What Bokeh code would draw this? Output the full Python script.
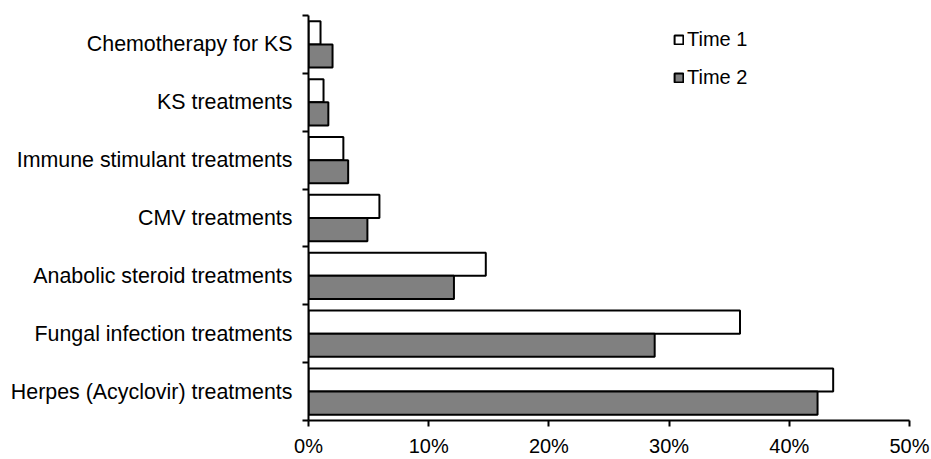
from bokeh.plotting import figure
from bokeh.models import ColumnDataSource, FixedTicker, NumeralTickFormatter, Legend, LegendItem, Range1d
from bokeh.transform import dodge
from bokeh.embed import file_html
from bokeh.resources import INLINE

# Data (top to bottom as in the chart)
categories = [
    "Chemotherapy for KS",
    "KS treatments",
    "Immune stimulant treatments",
    "CMV treatments",
    "Anabolic steroid treatments",
    "Fungal infection treatments",
    "Herpes (Acyclovir) treatments",
]
time1 = [1.0, 1.25, 2.9, 5.9, 14.75, 35.9, 43.65]
time2 = [2.0, 1.65, 3.3, 4.9, 12.1, 28.8, 42.35]
x_ticks = [0, 10, 20, 30, 40, 50]
series_names = ["Time 1", "Time 2"]

n = len(categories)
ypos = [n - 0.5 - i for i in range(n)]

src = ColumnDataSource(dict(
    y=ypos,
    cat=categories,
    t1=[v / 100 for v in time1],
    t2=[v / 100 for v in time2],
))

FONT = "Liberation Sans"

p = figure(
    width=931, height=459,
    output_backend="svg", toolbar_location=None,
    x_range=Range1d(0, 0.5), y_range=Range1d(0, n),
    min_border_left=308, min_border_right=22,
    min_border_top=15, min_border_bottom=38,
    background_fill_color="white", border_fill_color="white",
)
p.outline_line_color = None
p.grid.visible = False

r1 = p.hbar(y=dodge("y", 0.2), right="t1", left=0, height=0.4, source=src,
            fill_color="white", line_color="black", line_width=2)
r2 = p.hbar(y=dodge("y", -0.2), right="t2", left=0, height=0.4, source=src,
            fill_color="#808080", line_color="black", line_width=2)

# X axis
xa = p.xaxis[0]
xa.ticker = FixedTicker(ticks=[t / 100 for t in x_ticks], minor_ticks=[])
xa.formatter = NumeralTickFormatter(format="0%")
xa.axis_line_width = 2
xa.axis_line_color = "black"
xa.major_tick_line_width = 2
xa.major_tick_line_color = "black"
xa.major_tick_out = 6
xa.major_tick_in = 0
xa.minor_tick_line_color = None
xa.major_label_text_font = FONT
xa.major_label_text_font_size = "20px"
xa.major_label_text_color = "black"
xa.major_label_standoff = 8

# Y axis: labels at category centers, ticks at category boundaries
ya = p.yaxis[0]
ya.ticker = FixedTicker(ticks=ypos, minor_ticks=list(range(n + 1)))
ya.major_label_overrides = {y: c for y, c in zip(ypos, categories)}
ya.axis_line_width = 2
ya.axis_line_color = "black"
ya.major_tick_line_color = None
ya.major_tick_out = 0
ya.major_tick_in = 0
ya.minor_tick_line_color = "black"
ya.minor_tick_line_width = 2
ya.minor_tick_out = 6
ya.minor_tick_in = 0
ya.major_label_text_font = FONT
ya.major_label_text_font_size = "21.4px"
ya.major_label_text_color = "black"
ya.major_label_standoff = 10

legend = Legend(
    items=[LegendItem(label=series_names[0], renderers=[r1]),
           LegendItem(label=series_names[1], renderers=[r2])],
    location=(365, 331),
    orientation="vertical",
    glyph_width=11, glyph_height=11,
    label_height=20, spacing=15,
    label_standoff=3,
    padding=0, margin=0,
    border_line_color=None, background_fill_alpha=0,
    label_text_font=FONT, label_text_font_size="20px", label_text_color="black",
)
p.add_layout(legend)

open("out.html", "w").write(file_html(p, INLINE))
